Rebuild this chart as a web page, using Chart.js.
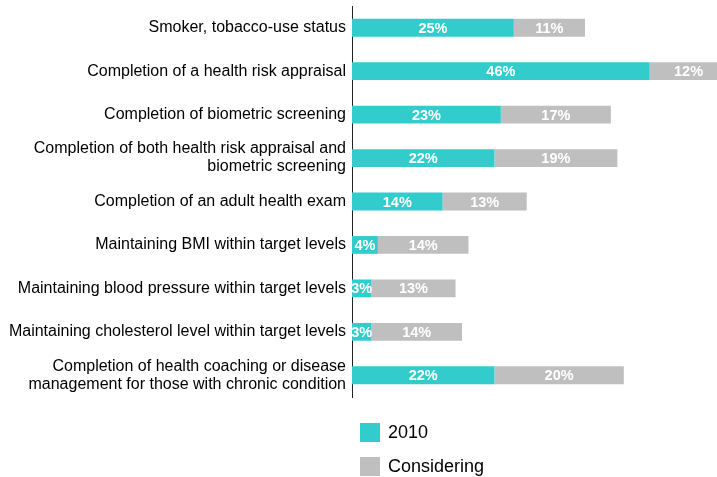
<!DOCTYPE html>
<html>
<head>
<meta charset="utf-8">
<script src="https://cdn.jsdelivr.net/npm/chart.js@4/dist/chart.umd.min.js"></script>
<style>
  html, body { margin: 0; padding: 0; background: #fff; }
  #wrap { position: relative; width: 717px; height: 477px; }
  #legend { position: absolute; left: 360px; top: 423px; font-family: "Liberation Sans", Arial, sans-serif; font-size: 18px; color: #000; }
  .item { display: flex; align-items: center; height: 19px; margin-bottom: 15px; }
  .swatch { width: 20px; height: 19px; margin-right: 8px; }
</style>
</head>
<body>
<div id="wrap">
  <canvas id="c" width="717" height="477"></canvas>
  <div id="legend"></div>
</div>
<script>
// Incentive criteria (multi-line entries are wrapped labels)
const categories = [
  "Smoker, tobacco-use status",
  "Completion of a health risk appraisal",
  "Completion of biometric screening",
  ["Completion of both health risk appraisal and", "biometric screening"],
  "Completion of an adult health exam",
  "Maintaining BMI within target levels",
  "Maintaining blood pressure within target levels",
  "Maintaining cholesterol level within target levels",
  ["Completion of health coaching or disease", "management for those with chronic condition"]
];
const values2010 = [25, 46, 23, 22, 14, 4, 3, 3, 22];
const valuesConsidering = [11, 12, 17, 19, 13, 14, 13, 14, 20];
const seriesNames = ["2010", "Considering"];
const seriesColors = ["#33CCCC", "#BFBFBF"];

// White percentage labels centred on each segment
const segmentLabels = {
  id: "segmentLabels",
  afterDatasetsDraw(chart) {
    const ctx = chart.ctx;
    ctx.save();
    ctx.font = "bold 14.5px 'Liberation Sans', Arial, sans-serif";
    ctx.fillStyle = "#fff";
    ctx.textAlign = "center";
    ctx.textBaseline = "middle";
    chart.data.datasets.forEach((ds, i) => {
      chart.getDatasetMeta(i).data.forEach((bar, j) => {
        const cx = (bar.x + bar.base) / 2;
        ctx.fillText(ds.data[j] + "%", cx, bar.y + 1);
      });
    });
    ctx.restore();
  }
};

const chart = new Chart(document.getElementById("c"), {
  type: "bar",
  data: {
    labels: categories,
    datasets: [
      { label: seriesNames[0], data: values2010, backgroundColor: seriesColors[0] },
      { label: seriesNames[1], data: valuesConsidering, backgroundColor: seriesColors[1] }
    ]
  },
  options: {
    indexAxis: "y",
    responsive: false,
    animation: false,
    layout: { padding: { top: 6, bottom: 80, right: 0, left: 0 } },
    datasets: { bar: { categoryPercentage: 1, barPercentage: 0.41 } },
    plugins: { legend: { display: false }, tooltip: { enabled: false } },
    scales: {
      x: {
        stacked: true, min: 0, max: 56.4, display: false
      },
      y: {
        stacked: true,
        afterFit(scale) {
          scale.width = 352;
          scale.paddingTop = 0;
          scale.paddingBottom = 0;
        },
        grid: { display: false, drawTicks: false },
        border: { display: true, color: "#222", width: 1 },
        ticks: {
          padding: 6,
          color: "#000",
          font: { family: "'Liberation Sans', Arial, sans-serif", size: 16, lineHeight: 1.125 }
        }
      }
    }
  },
  plugins: [segmentLabels]
});

// Vertical legend built from the dataset names and colours
const legend = document.getElementById("legend");
chart.data.datasets.forEach(ds => {
  const row = document.createElement("div");
  row.className = "item";
  const sw = document.createElement("span");
  sw.className = "swatch";
  sw.style.background = ds.backgroundColor;
  const t = document.createElement("span");
  t.textContent = ds.label;
  row.appendChild(sw);
  row.appendChild(t);
  legend.appendChild(row);
});
</script>
</body>
</html>
